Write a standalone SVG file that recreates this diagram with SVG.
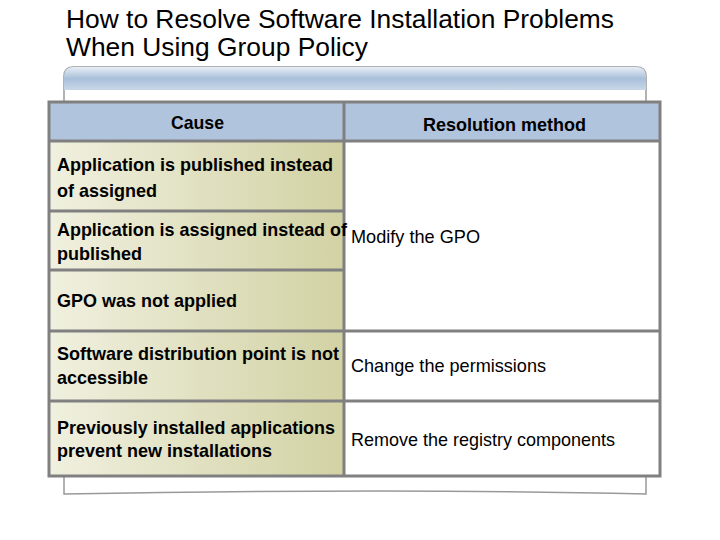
<svg xmlns="http://www.w3.org/2000/svg" width="720" height="540" viewBox="0 0 720 540">
<defs>
<linearGradient id="bar" x1="0" y1="0" x2="0" y2="1"><stop offset="0" stop-color="#e8eef6"/><stop offset="0.5" stop-color="#a9c0da"/><stop offset="1" stop-color="#c9d7e8"/></linearGradient>
<linearGradient id="cell" x1="0" y1="0" x2="1" y2="0"><stop offset="0" stop-color="#f0f0e0"/><stop offset="1" stop-color="#d2d2a4"/></linearGradient>
</defs>
<style>
.t{font-family:"Liberation Sans Narrow","Liberation Sans",Arial,sans-serif;fill:#000}
.b{font-weight:bold;font-size:19px}
.r{font-size:19px}
.ln{stroke:#808080;stroke-width:3;fill:none}
</style>
<rect width="720" height="540" fill="#fff"/>
<text class="t" x="66" y="28" font-size="25" textLength="548" lengthAdjust="spacingAndGlyphs">How to Resolve Software Installation Problems</text>
<text class="t" x="66" y="56" font-size="25" textLength="302" lengthAdjust="spacingAndGlyphs">When Using Group Policy</text>
<g id="panel">
<path d="M64 494 L64 76 Q64 67 74 67 L636 67 Q646 67 646 76 L646 494 Q400 488 64 494 Z" fill="#fff" stroke="#999" stroke-width="1.5"/>
<path d="M64 90 L64 76 Q64 67 74 67 L636 67 Q646 67 646 76 L646 90 Z" fill="url(#bar)"/>
</g>
<g id="table">
<rect x="49" y="102" width="611" height="39" fill="#b0c4de"/>
<rect x="49" y="141" width="295" height="335" fill="url(#cell)"/>
<rect x="344" y="141" width="316" height="335" fill="#fff"/>
<rect x="49" y="102" width="611" height="374" class="ln"/>
<path class="ln" d="M344 102V476M49 141H660M49 211H344M49 270H344M49 331H660M49 401H660"/>
</g>
<g id="text">
<text class="t b" x="171" y="129" textLength="53" lengthAdjust="spacingAndGlyphs">Cause</text>
<text class="t b" x="423" y="131" textLength="163" lengthAdjust="spacingAndGlyphs">Resolution method</text>
<text class="t b" x="57" y="171" textLength="276" lengthAdjust="spacingAndGlyphs">Application is published instead</text>
<text class="t b" x="57" y="197" textLength="100" lengthAdjust="spacingAndGlyphs">of assigned</text>
<text class="t b" x="57" y="236" textLength="290" lengthAdjust="spacingAndGlyphs">Application is assigned instead of</text>
<text class="t b" x="57" y="260" textLength="85" lengthAdjust="spacingAndGlyphs">published</text>
<text class="t b" x="57" y="307" textLength="180" lengthAdjust="spacingAndGlyphs">GPO was not applied</text>
<text class="t b" x="57" y="360" textLength="282" lengthAdjust="spacingAndGlyphs">Software distribution point is not</text>
<text class="t b" x="57" y="384" textLength="91" lengthAdjust="spacingAndGlyphs">accessible</text>
<text class="t b" x="57" y="434" textLength="278" lengthAdjust="spacingAndGlyphs">Previously installed applications</text>
<text class="t b" x="57" y="457" textLength="215" lengthAdjust="spacingAndGlyphs">prevent new installations</text>
<text class="t r" x="351" y="243" textLength="129" lengthAdjust="spacingAndGlyphs">Modify the GPO</text>
<text class="t r" x="351" y="372" textLength="195" lengthAdjust="spacingAndGlyphs">Change the permissions</text>
<text class="t r" x="351" y="446" textLength="264" lengthAdjust="spacingAndGlyphs">Remove the registry components</text>
</g>
</svg>
